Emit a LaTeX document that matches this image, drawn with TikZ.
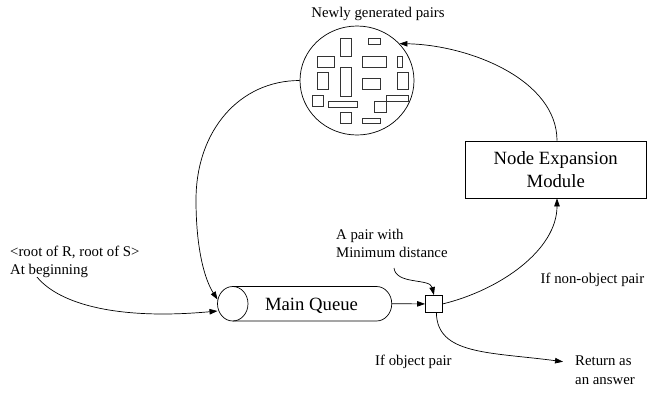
\documentclass[tikz,border=0pt]{standalone}
\usepackage{fontspec}
\setmainfont{Liberation Serif}
\usetikzlibrary{arrows.meta,shapes.geometric}
\begin{document}
\begin{tikzpicture}[x=1pt,y=-1pt,
  conn/.style={line width=0.7pt,-{Triangle[length=8pt,width=5.5pt]}},
  lbl/.style={inner sep=0pt,font=\fontsize{14.8}{18.3}\selectfont},
  big/.style={font=\fontsize{18.7}{22.4}\selectfont},
  item/.style={draw=black!80,line width=0.9pt},
  outline/.style={line width=0.7pt}]
\useasboundingbox (0,0) rectangle (647,392);
\clip (0,0) rectangle (647,392);

% pool of newly generated pairs
\node[draw, outline, ellipse, minimum width=114pt, minimum height=109pt, inner sep=0pt] (pool) at (357,80.5) {};
\draw[item] (340,38) rectangle (351,56);
\draw[item] (368,38) rectangle (380,44);
\draw[item] (317,56) rectangle (334,67);
\draw[item] (362,56) rectangle (386,67);
\draw[item] (397,56) rectangle (402,67);
\draw[item] (340,67) rectangle (351,96);
\draw[item] (317,72) rectangle (328,89);
\draw[item] (362,78) rectangle (380,89);
\draw[item] (397,72) rectangle (408,89);
\draw[item] (312,95) rectangle (323,106);
\draw[item] (328,101) rectangle (357,107);
\draw[item] (386,95) rectangle (408,101);
\draw[item] (374,101) rectangle (386,112);
\draw[item] (340,112) rectangle (351,123);
\draw[item] (362,118) rectangle (380,123);
\node[lbl, anchor=base] (title) at (378,17.5) {Newly generated pairs};

% node expansion module
\node[draw, outline, big, minimum width=180.5pt, minimum height=57pt, align=center, inner sep=0pt] (nem) at (555.75,169.5) {Node Expansion\\Module};

% main queue
\draw[outline] (232.75,303.75) ellipse [x radius=15.25, y radius=17.25];
\draw[outline] (232.75,286.5) -- (376.5,286.5) arc[start angle=-90, end angle=90, x radius=15.25, y radius=17.25] -- (232.75,321);
\node[big, inner sep=0pt, anchor=base] (mq) at (311.5,310) {Main Queue};
\coordinate (qin1) at (217.5,299.5);
\coordinate (qin2) at (217.5,311);
\coordinate (qout) at (391.75,303.75);

% selector square
\node[draw, outline, minimum size=17pt, inner sep=0pt] (sq) at (433.9,303.9) {};

% labels
\node[lbl, anchor=base west] (root) at (10,256) {\begin{tabular}[t]{@{}l@{}}<root of R, root of S>\\At beginning\end{tabular}};
\coordinate (rootend) at (37,277);
\node[lbl, anchor=base west] (minl) at (336,239.5) {\begin{tabular}[t]{@{}l@{}}A pair with\\Minimum distance\end{tabular}};
\coordinate (minend) at (394,268);
\node[lbl, anchor=base west] (nonobj) at (540.5,283.5) {If non-object pair};
\node[lbl, anchor=base west] (obj) at (375,365.5) {If object pair};
\node[lbl, anchor=base west] (ret) at (575,365.7) {\begin{tabular}[t]{@{}l@{}}Return as\\an answer\end{tabular}};
\coordinate (retin) at (563,361.7);

% connectors
\draw[conn] (pool.west) .. controls (240,80.5) and (196,130) .. (196,200) .. controls (196,250) and (205,280) .. (qin1);
\draw[conn] (rootend) .. controls (60,305) and (120,320) .. (qin2);
\draw[conn] (qout) -- (sq.west);
\draw[conn] (minend) .. controls (396,285) and (430,278) .. (sq.north);
\draw[conn] (sq.east) .. controls (500,290) and (557,250) .. ([xshift=1.25pt]nem.south);
\draw[conn] ([xshift=1.25pt]nem.north) .. controls (557,80) and (470,45) .. (pool.41);
\draw[conn] ([xshift=2.5pt]sq.south) .. controls (437,355) and (490,352) .. (retin);
\end{tikzpicture}
\end{document}
